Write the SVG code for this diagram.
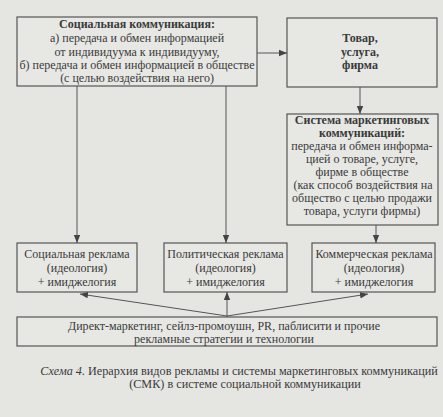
<svg xmlns="http://www.w3.org/2000/svg" width="443" height="417" viewBox="0 0 443 417">
<style>
.bg{fill:#e5e5e2}
.box{fill:#e7e7e4;stroke:#555;stroke-width:1.2}
.t{font-family:"Liberation Serif","Times New Roman",serif;font-size:12px;fill:#3a3a3a;text-anchor:middle}
.b{font-weight:bold}
.c{stroke:#555;stroke-width:1;fill:none}
.cap{font-family:"Liberation Serif","Times New Roman",serif;font-size:12.2px;fill:#3a3a3a;text-anchor:middle}
</style>
<defs>
<marker id="ah" viewBox="0 0 10 10" refX="10" refY="5" markerWidth="8" markerHeight="8" orient="auto" markerUnits="userSpaceOnUse">
<path d="M0,1 L10,5 L0,9 Z" fill="#444"/>
</marker>
</defs>
<rect class="bg" x="0" y="0" width="443" height="417"/>

<g id="social-communication">
<rect class="box" x="17" y="17" width="240" height="69"/>
<text class="t b" x="137" y="28">Социальная коммуникация:</text>
<text class="t" x="137" y="42">а) передача и обмен информацией</text>
<text class="t" x="137" y="55.5">от индивидуума к индивидууму,</text>
<text class="t" x="137" y="69">б) передача и обмен информацией в обществе</text>
<text class="t" x="137" y="82">(с целью воздействия на него)</text>
</g>

<g id="product">
<rect class="box" x="287" y="18" width="150" height="69"/>
<text class="t b" x="360" y="42">Товар,</text>
<text class="t b" x="360" y="56">услуга,</text>
<text class="t b" x="360" y="69">фирма</text>
</g>

<g id="smk">
<rect class="box" x="287" y="114" width="151" height="111"/>
<text class="t b" x="362" y="124">Система маркетинговых</text>
<text class="t b" x="362" y="137">коммуникаций:</text>
<text class="t" x="362" y="150">передача и обмен информа-</text>
<text class="t" x="362" y="163">цией о товаре, услуге,</text>
<text class="t" x="362" y="176">фирме в обществе</text>
<text class="t" x="363" y="189">(как способ воздействия на</text>
<text class="t" x="362" y="202">общество с целью продажи</text>
<text class="t" x="362" y="215">товара, услуги фирмы)</text>
</g>

<g id="social-ad">
<rect class="box" x="17" y="243" width="120" height="49"/>
<text class="t" x="77" y="258">Социальная реклама</text>
<text class="t" x="77" y="272">(идеология)</text>
<text class="t" x="77" y="286">+ имиджелогия</text>
</g>

<g id="political-ad">
<rect class="box" x="164" y="243" width="123" height="49"/>
<text class="t" x="225.5" y="258">Политическая реклама</text>
<text class="t" x="225.5" y="272">(идеология)</text>
<text class="t" x="225.5" y="286">+ имиджелогия</text>
</g>

<g id="commercial-ad">
<rect class="box" x="312" y="243" width="123" height="49"/>
<text class="t" x="374" y="258">Коммерческая реклама</text>
<text class="t" x="374" y="272">(идеология)</text>
<text class="t" x="374" y="286">+ имиджелогия</text>
</g>

<g id="technologies">
<rect class="box" x="17" y="317" width="420" height="29"/>
<text class="t" x="224" y="330" textLength="312" lengthAdjust="spacing">Директ-маркетинг, сейлз-промоушн, PR, паблисити и прочие</text>
<text class="t" x="224" y="343">рекламные стратегии и технологии</text>
</g>

<g id="connectors">
<line class="c" x1="257" y1="53" x2="287" y2="53" marker-end="url(#ah)"/>
<line class="c" x1="360" y1="87" x2="360" y2="114" marker-end="url(#ah)"/>
<line class="c" x1="376" y1="225" x2="376" y2="243" marker-end="url(#ah)"/>
<line class="c" x1="77" y1="86" x2="77" y2="243" marker-end="url(#ah)"/>
<line class="c" x1="226" y1="86" x2="226" y2="243" marker-end="url(#ah)"/>
<line class="c" x1="227" y1="317" x2="227" y2="292" marker-end="url(#ah)"/>
<line class="c" x1="227" y1="316" x2="80" y2="294" marker-end="url(#ah)"/>
<line class="c" x1="227" y1="316" x2="368" y2="294" marker-end="url(#ah)"/>
</g>

<g id="caption">
<text class="cap" x="239" y="375"><tspan font-style="italic">Схема 4.</tspan> Иерархия видов рекламы и системы маркетинговых коммуникаций</text>
<text class="cap" x="245" y="388">(СМК) в системе социальной коммуникации</text>
</g>
</svg>
